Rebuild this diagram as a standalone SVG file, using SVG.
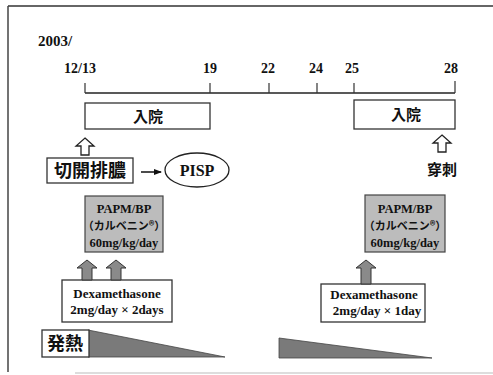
<svg xmlns="http://www.w3.org/2000/svg" width="493" height="375" viewBox="0 0 493 375">
<defs>
<style>
.lat{font-family:"Liberation Serif","Times New Roman",serif;font-weight:bold;fill:#111}
.cjk{font-family:"Noto Sans CJK JP","Noto Sans CJK SC",sans-serif;font-weight:bold;fill:#111}
.box{fill:#fff;stroke:#333;stroke-width:1.3}
.gbox{fill:#bcbcbc;stroke:#444;stroke-width:1.2}
.ln{stroke:#222;stroke-width:1.5;fill:none}
.tick{stroke:#333;stroke-width:1.2}
.hollow{fill:#fff;stroke:#222;stroke-width:1.3}
.garrow{fill:#8a8a8a;stroke:#333;stroke-width:1}
.fever{fill:#7a7a7a;stroke:#444;stroke-width:0.8}
</style>
<marker id="ah" markerWidth="8" markerHeight="6" refX="7" refY="3" orient="auto" markerUnits="userSpaceOnUse">
<path d="M0,0 L8,3 L0,6 Z" fill="#111"/>
</marker>
</defs>
<rect width="493" height="375" fill="#fff"/>
<g id="frame">
<line x1="8" y1="6" x2="493" y2="6" stroke="#333" stroke-width="1.5"/>
<line x1="8" y1="6" x2="8" y2="372" stroke="#444" stroke-width="1.5"/>
<line x1="75" y1="373" x2="493" y2="373" stroke="#bbb" stroke-width="1"/>
</g>
<g id="timeline">
<text class="lat" x="38" y="46" font-size="15">2003/</text>
<line class="ln" x1="85" y1="93" x2="455" y2="93"/>
<line class="tick" x1="85" y1="83" x2="85" y2="93"/>
<line class="tick" x1="210" y1="83" x2="210" y2="93"/>
<line class="tick" x1="269" y1="83" x2="269" y2="93"/>
<line class="tick" x1="317" y1="83" x2="317" y2="93"/>
<line class="tick" x1="354" y1="83" x2="354" y2="93"/>
<line class="tick" x1="455" y1="81" x2="455" y2="93"/>
<g class="lat" font-size="14" text-anchor="middle">
<text x="80" y="73">12/13</text>
<text x="210" y="73">19</text>
<text x="268" y="73">22</text>
<text x="316" y="73">24</text>
<text x="352" y="73">25</text>
<text x="451" y="73">28</text>
</g>
</g>
<g id="admission1">
<rect class="box" x="85" y="103" width="125" height="26"/>
<text class="cjk" x="148" y="122" font-size="15" text-anchor="middle">入院</text>
</g>
<g id="admission2">
<rect class="box" x="354" y="100" width="101" height="29"/>
<text class="cjk" x="406" y="120" font-size="15" text-anchor="middle">入院</text>
</g>
<g id="drainage">
<rect class="box" x="47" y="158" width="86" height="25"/>
<text class="cjk" x="90" y="177" font-size="18" text-anchor="middle">切開排膿</text>
</g>
<g id="pisp">
<ellipse cx="197" cy="170" rx="32" ry="17" fill="#fff" stroke="#222" stroke-width="1.3"/>
<text class="lat" x="197" y="176" font-size="16" text-anchor="middle">PISP</text>
</g>
<g id="puncture">
<text class="cjk" x="442" y="175" font-size="15" text-anchor="middle">穿刺</text>
</g>
<g id="papm1">
<rect class="gbox" x="85" y="196" width="78" height="56"/>
<text class="lat" x="124" y="213" font-size="12.5" text-anchor="middle">PAPM/BP</text>
<text class="cjk" x="124" y="230" font-size="11" text-anchor="middle">（カルベニン®）</text>
<text class="lat" x="124" y="247" font-size="12.5" text-anchor="middle">60mg/kg/day</text>
</g>
<g id="papm2">
<rect class="gbox" x="365" y="195" width="80" height="57"/>
<text class="lat" x="405" y="213" font-size="12.5" text-anchor="middle">PAPM/BP</text>
<text class="cjk" x="405" y="230" font-size="11" text-anchor="middle">（カルベニン®）</text>
<text class="lat" x="405" y="247" font-size="12.5" text-anchor="middle">60mg/kg/day</text>
</g>
<g id="dex1">
<rect class="box" x="62" y="280" width="110" height="42"/>
<text class="lat" x="117" y="298" font-size="13" text-anchor="middle">Dexamethasone</text>
<text class="lat" x="117" y="314" font-size="13" text-anchor="middle">2mg/day × 2days</text>
</g>
<g id="dex2">
<rect class="box" x="321" y="284" width="104" height="38"/>
<text class="lat" x="374" y="299" font-size="13" text-anchor="middle">Dexamethasone</text>
<text class="lat" x="377" y="315" font-size="13" text-anchor="middle">2mg/day × 1day</text>
</g>
<g id="fever1">
<polygon class="fever" points="88,330 225,357 88,357"/>
<rect class="box" x="42" y="330" width="47" height="27"/>
<text class="cjk" x="65" y="350" font-size="18" text-anchor="middle">発熱</text>
</g>
<g id="fever2">
<polygon class="fever" points="279,338 432,358 279,358"/>
</g>
<g id="connectors">
<polygon class="hollow" points="85,138 94,146 89,146 89,155 81,155 81,146 76,146"/>
<polygon class="hollow" points="442,135 451,143 446,143 446,152 438,152 438,143 433,143"/>
<line x1="141" y1="172" x2="161" y2="172" stroke="#111" stroke-width="1.5" marker-end="url(#ah)"/>
<polygon class="garrow" points="87,260 97,268 92,268 92,280 82,280 82,268 77,268"/>
<polygon class="garrow" points="116,260 126,268 121,268 121,280 111,280 111,268 106,268"/>
<polygon class="garrow" points="366,260 376,268 371,268 371,284 361,284 361,268 356,268"/>
</g>
</svg>
